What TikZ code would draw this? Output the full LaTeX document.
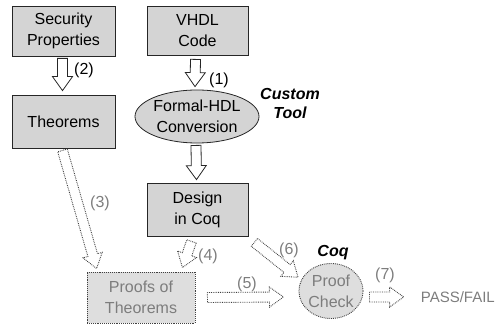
\documentclass[tikz,border=0pt]{standalone}
\usepackage{fontspec}
\setmainfont{Liberation Sans}
\usetikzlibrary{calc,shapes.geometric}
\definecolor{boxgray}{RGB}{212,212,212}
\definecolor{fadegray}{RGB}{222,222,222}
\definecolor{fadetext}{RGB}{125,125,125}
\tikzset{
  box/.style={draw=black!85, line width=0.8pt, fill=boxgray, align=center, inner sep=2pt},
  fadebox/.style={draw=black!75, densely dotted, line width=0.9pt, fill=fadegray, text=fadetext, align=center, inner sep=2pt},
  lbl/.style={inner sep=1pt},
  fadelbl/.style={inner sep=1pt, text=fadetext},
  tooltag/.style={font=\fontsize{16}{19}\selectfont\bfseries\itshape, align=center, inner sep=1pt},
  blockarrow/.style={line width=0.8pt, draw=black!85, to path={
    ($(\tikztostart)!5pt!90:(\tikztotarget)$)
    -- ($(\tikztotarget)!14.87pt!-19.65:(\tikztostart)$)
    -- ($(\tikztotarget)!17.2pt!-35.54:(\tikztostart)$)
    -- (\tikztotarget)
    -- ($(\tikztotarget)!17.2pt!35.54:(\tikztostart)$)
    -- ($(\tikztotarget)!14.87pt!19.65:(\tikztostart)$)
    -- ($(\tikztostart)!5pt!-90:(\tikztotarget)$) -- cycle}},
  fadearrow/.style={blockarrow, draw=black!75, densely dotted, line width=0.9pt}
}
\begin{document}
\begin{tikzpicture}[x=1pt, y=1pt, font=\fontsize{16}{21}\selectfont]
\useasboundingbox (0,0) rectangle (497,-328);
% boxes
\node[box, minimum width=103pt, minimum height=50pt] (secprop) at (63.5,-31) {Security\\Properties};
\node[box, minimum width=101pt, minimum height=49pt] (vhdl) at (197.5,-30.5) {VHDL\\Code};
\node[box, minimum width=103pt, minimum height=53pt] (thm) at (63.5,-121.5) {Theorems};
\node[box, ellipse, minimum width=124pt, minimum height=53pt, inner sep=0pt] (conv) at (197,-116.5) {Formal-HDL\\Conversion};
\node[box, minimum width=101pt, minimum height=53pt] (design) at (197.5,-209.5) {Design\\in Coq};
\node[fadebox, minimum width=108pt, minimum height=51pt] (proofs) at (141,-297.5) {Proofs of\\Theorems};
\node[fadebox, ellipse, minimum width=63pt, minimum height=55pt, inner sep=0pt] (check) at (331,-291) {Proof\\Check};
\node[fadelbl, anchor=east, font=\fontsize{15}{18}\selectfont] (result) at (496,-297) {PASS/FAIL};
% tool tags
\node[tooltag] (custom) at (290,-103) {Custom\\Tool};
\node[tooltag] (coq) at (333,-253) {Coq};
% arrows
\draw[blockarrow] ([xshift=-1pt,yshift=-2pt]secprop.south) to ([xshift=-1pt,yshift=4pt]thm.north);
\draw[blockarrow] ([xshift=-2pt,yshift=-4pt]vhdl.south) to ([xshift=-2pt,yshift=3pt]conv.north);
\draw[blockarrow] ([xshift=-1pt,yshift=-2pt]conv.south) to ([xshift=-1pt,yshift=3pt]design.north);
\draw[fadearrow] ([xshift=-1pt,yshift=-2pt]thm.south) to ([xshift=10pt,yshift=3pt]proofs.north west);
\draw[fadearrow] ([xshift=-6pt,yshift=-5pt]design.south) to ([xshift=-13pt,yshift=4pt]proofs.north east);
\draw[fadearrow] ([xshift=12pt]proofs.east) to ([xshift=-15pt,yshift=-6pt]check.west);
\draw[fadearrow] ([xshift=6pt,yshift=-6pt]design.south east) to ([xshift=-10pt,yshift=-6pt]check.north west);
\draw[fadearrow] ([xshift=6pt,yshift=-6pt]check.east) to ([xshift=-16pt]result.west);
% step numbers
\node[lbl] (n1) at (219,-80) {(1)};
\node[lbl] (n2) at (84,-70) {(2)};
\node[fadelbl] (n3) at (100,-203) {(3)};
\node[fadelbl] (n4) at (208,-256) {(4)};
\node[fadelbl] (n5) at (247,-284) {(5)};
\node[fadelbl] (n6) at (289,-250) {(6)};
\node[fadelbl] (n7) at (385,-275) {(7)};
\end{tikzpicture}
\end{document}
